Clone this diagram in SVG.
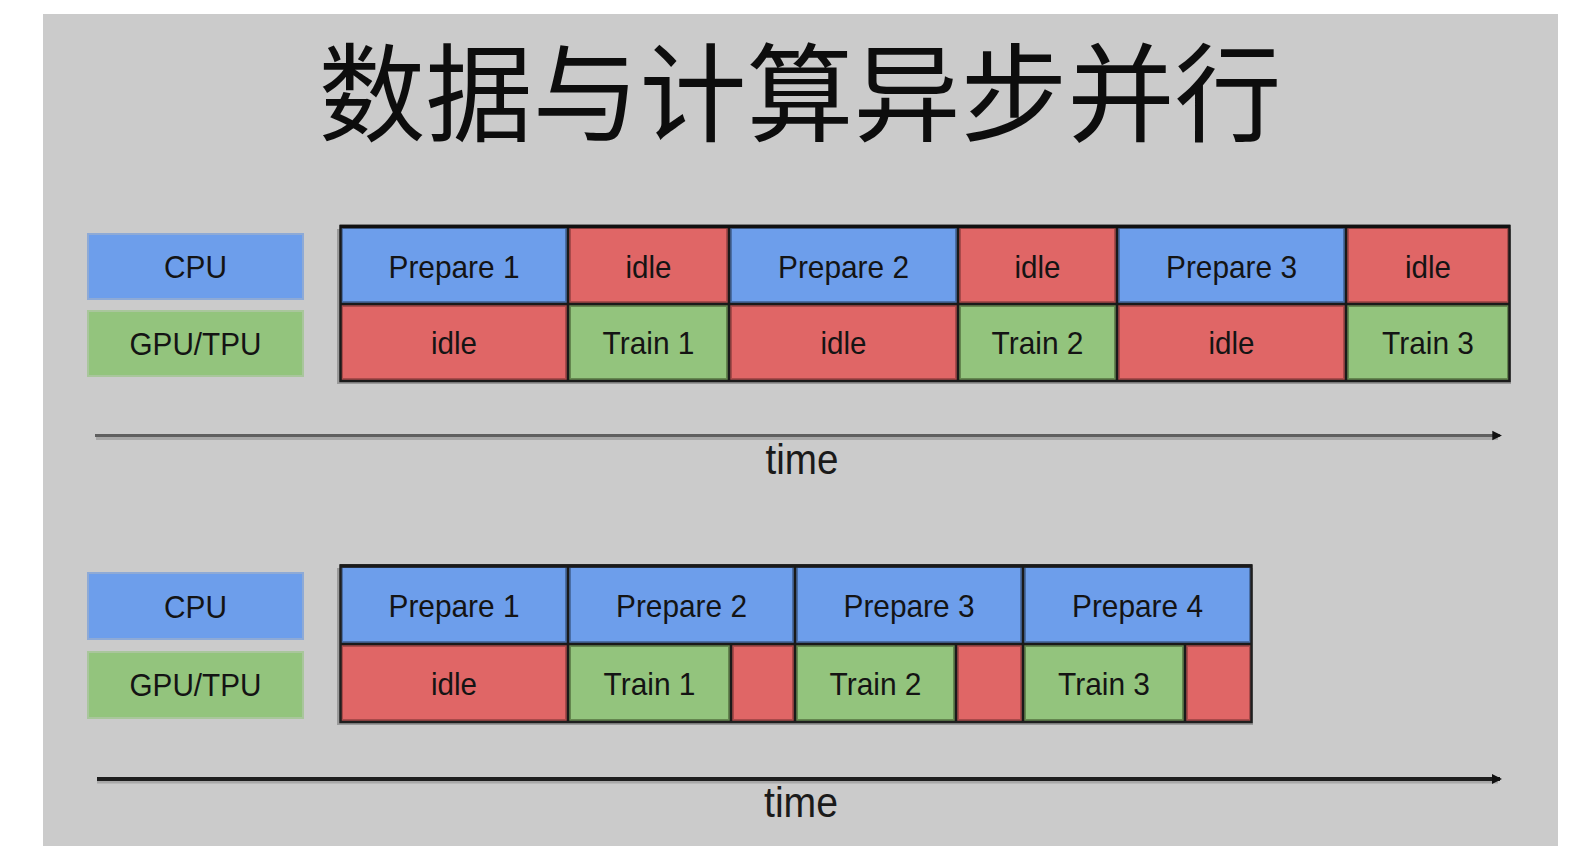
<svg xmlns="http://www.w3.org/2000/svg" width="1588" height="846" viewBox="0 0 1588 846">
<defs>
<style>
.lbl{font-family:"Liberation Sans",Arial,sans-serif;font-size:32px;fill:#141414;text-anchor:middle}
.time{font-family:"Liberation Sans",Arial,sans-serif;font-size:43px;fill:#1a1a1a;text-anchor:middle}
.title{font-family:"Noto Sans CJK SC","Noto Sans CJK JP",sans-serif;font-size:107px;fill:#0d0d0d;text-anchor:middle}
.blue{fill:#6d9eeb;stroke:#4a6ea6;stroke-width:3}
.red{fill:#e06666;stroke:#a84a4a;stroke-width:3}
.green{fill:#93c47d;stroke:#64864f;stroke-width:3}
.grid{stroke:#1a1a1a;stroke-width:2.5;fill:none}
.shadow{fill:#9a9a9a}
.axis1{stroke:#5f5f5f;stroke-width:3}
.axis2{stroke:#1e1e1e;stroke-width:4}
.axsh{stroke:#a8a8a8;stroke-width:3}
</style>
<marker id="ah1" viewBox="0 0 10 10" refX="8" refY="5" markerWidth="3.2" markerHeight="3.6" markerUnits="strokeWidth" orient="auto"><path d="M0,0 L10,5 L0,10 z" fill="#111"/></marker>
<marker id="ah2" viewBox="0 0 10 10" refX="8" refY="5" markerWidth="2.6" markerHeight="2.8" markerUnits="strokeWidth" orient="auto"><path d="M0,0 L10,5 L0,10 z" fill="#111"/></marker>
</defs>
<rect x="0" y="0" width="1588" height="846" fill="#ffffff"/>
<rect x="43" y="14" width="1515" height="832" fill="#cbcbcb"/>
<text class="title" x="800" y="133">数据与计算异步并行</text>

<g id="legend-top">
<g id="cpu-label-1"><rect x="88" y="234" width="215" height="65" fill="#6d9eeb" stroke="#8eaad6" stroke-width="2"/><text class="lbl" x="195.5" y="278" textLength="63" lengthAdjust="spacingAndGlyphs">CPU</text></g>
<g id="gpu-label-1"><rect x="88" y="311" width="215" height="65" fill="#93c47d" stroke="#a9c69c" stroke-width="2"/><text class="lbl" x="195.5" y="355" textLength="132" lengthAdjust="spacingAndGlyphs">GPU/TPU</text></g>
</g>

<g id="table-top">
<rect class="shadow" x="337" y="229" width="1174" height="155"/>
<g id="t1-cpu-prep1"><rect class="blue" x="341.5" y="227.5" width="225" height="75"/><text class="lbl" x="454" y="277.5" textLength="131" lengthAdjust="spacingAndGlyphs">Prepare 1</text></g>
<g id="t1-cpu-idle1"><rect class="red" x="569.5" y="227.5" width="158" height="75"/><text class="lbl" x="648.5" y="277.5" textLength="46" lengthAdjust="spacingAndGlyphs">idle</text></g>
<g id="t1-cpu-prep2"><rect class="blue" x="730.5" y="227.5" width="226" height="75"/><text class="lbl" x="843.5" y="277.5" textLength="131" lengthAdjust="spacingAndGlyphs">Prepare 2</text></g>
<g id="t1-cpu-idle2"><rect class="red" x="959.5" y="227.5" width="156" height="75"/><text class="lbl" x="1037.5" y="277.5" textLength="46" lengthAdjust="spacingAndGlyphs">idle</text></g>
<g id="t1-cpu-prep3"><rect class="blue" x="1118.5" y="227.5" width="226" height="75"/><text class="lbl" x="1231.5" y="277.5" textLength="131" lengthAdjust="spacingAndGlyphs">Prepare 3</text></g>
<g id="t1-cpu-idle3"><rect class="red" x="1347.5" y="227.5" width="161" height="75"/><text class="lbl" x="1428" y="277.5" textLength="46" lengthAdjust="spacingAndGlyphs">idle</text></g>
<g id="t1-gpu-idle1"><rect class="red" x="341.5" y="305.5" width="225" height="74"/><text class="lbl" x="454" y="354" textLength="46" lengthAdjust="spacingAndGlyphs">idle</text></g>
<g id="t1-gpu-train1"><rect class="green" x="569.5" y="305.5" width="158" height="74"/><text class="lbl" x="648.5" y="354" textLength="92" lengthAdjust="spacingAndGlyphs">Train 1</text></g>
<g id="t1-gpu-idle2"><rect class="red" x="730.5" y="305.5" width="226" height="74"/><text class="lbl" x="843.5" y="354" textLength="46" lengthAdjust="spacingAndGlyphs">idle</text></g>
<g id="t1-gpu-train2"><rect class="green" x="959.5" y="305.5" width="156" height="74"/><text class="lbl" x="1037.5" y="354" textLength="92" lengthAdjust="spacingAndGlyphs">Train 2</text></g>
<g id="t1-gpu-idle3"><rect class="red" x="1118.5" y="305.5" width="226" height="74"/><text class="lbl" x="1231.5" y="354" textLength="46" lengthAdjust="spacingAndGlyphs">idle</text></g>
<g id="t1-gpu-train3"><rect class="green" x="1347.5" y="305.5" width="161" height="74"/><text class="lbl" x="1428" y="354" textLength="92" lengthAdjust="spacingAndGlyphs">Train 3</text></g>
<path class="grid" d="M340,304 H1510 M568,226 V381 M729,226 V381 M958,226 V381 M1117,226 V381 M1346,226 V381"/>
<rect x="340.5" y="226" width="1169" height="155" fill="none" stroke="#1a1a1a" stroke-width="2.5"/>
<path d="M340,226.5 H1510" stroke="#111" stroke-width="3.5"/>
</g>

<g id="legend-bottom">
<g id="cpu-label-2"><rect x="88" y="573" width="215" height="66" fill="#6d9eeb" stroke="#8eaad6" stroke-width="2"/><text class="lbl" x="195.5" y="617.5" textLength="63" lengthAdjust="spacingAndGlyphs">CPU</text></g>
<g id="gpu-label-2"><rect x="88" y="652" width="215" height="66" fill="#93c47d" stroke="#a9c69c" stroke-width="2"/><text class="lbl" x="195.5" y="696" textLength="132" lengthAdjust="spacingAndGlyphs">GPU/TPU</text></g>
</g>

<g id="table-bottom">
<rect class="shadow" x="337" y="568" width="916" height="157"/>
<g id="t2-cpu-prep1"><rect class="blue" x="341.5" y="566.5" width="225" height="76"/><text class="lbl" x="454" y="617" textLength="131" lengthAdjust="spacingAndGlyphs">Prepare 1</text></g>
<g id="t2-cpu-prep2"><rect class="blue" x="569.5" y="566.5" width="224" height="76"/><text class="lbl" x="681.5" y="617" textLength="131" lengthAdjust="spacingAndGlyphs">Prepare 2</text></g>
<g id="t2-cpu-prep3"><rect class="blue" x="796.5" y="566.5" width="225" height="76"/><text class="lbl" x="909" y="617" textLength="131" lengthAdjust="spacingAndGlyphs">Prepare 3</text></g>
<g id="t2-cpu-prep4"><rect class="blue" x="1024.5" y="566.5" width="226" height="76"/><text class="lbl" x="1137.5" y="617" textLength="131" lengthAdjust="spacingAndGlyphs">Prepare 4</text></g>
<g id="t2-gpu-idle"><rect class="red" x="341.5" y="645.5" width="225" height="75"/><text class="lbl" x="454" y="695" textLength="46" lengthAdjust="spacingAndGlyphs">idle</text></g>
<g id="t2-gpu-train1"><rect class="green" x="569.5" y="645.5" width="160" height="75"/><text class="lbl" x="649.5" y="695" textLength="92" lengthAdjust="spacingAndGlyphs">Train 1</text></g>
<g id="t2-gpu-gap1"><rect class="red" x="732.5" y="645.5" width="61" height="75"/></g>
<g id="t2-gpu-train2"><rect class="green" x="796.5" y="645.5" width="158" height="75"/><text class="lbl" x="875.5" y="695" textLength="92" lengthAdjust="spacingAndGlyphs">Train 2</text></g>
<g id="t2-gpu-gap2"><rect class="red" x="957.5" y="645.5" width="64" height="75"/></g>
<g id="t2-gpu-train3"><rect class="green" x="1024.5" y="645.5" width="159" height="75"/><text class="lbl" x="1104" y="695" textLength="92" lengthAdjust="spacingAndGlyphs">Train 3</text></g>
<g id="t2-gpu-gap3"><rect class="red" x="1186.5" y="645.5" width="64" height="75"/></g>
<path class="grid" d="M340,644 H1252 M568,565 V722 M795,565 V722 M1023,565 V722 M731,644 V722 M956,644 V722 M1185,644 V722"/>
<rect x="340.5" y="565.5" width="911" height="156.5" fill="none" stroke="#1f1f1f" stroke-width="2.5"/>
<path d="M340,566 H1252" stroke="#1a1a1a" stroke-width="3.5"/>
</g>

<g id="connectors">
<path class="axsh" d="M96,438.5 H1498"/>
<path class="axis1" d="M95,435.5 H1500" marker-end="url(#ah1)"/>
<path class="axsh" d="M97,782 H1498"/>
<path class="axis2" d="M97,779 H1500" marker-end="url(#ah2)"/>
</g>
<text class="time" x="802" y="474" textLength="73" lengthAdjust="spacingAndGlyphs">time</text>
<text class="time" x="801" y="817" textLength="74" lengthAdjust="spacingAndGlyphs">time</text>
</svg>
